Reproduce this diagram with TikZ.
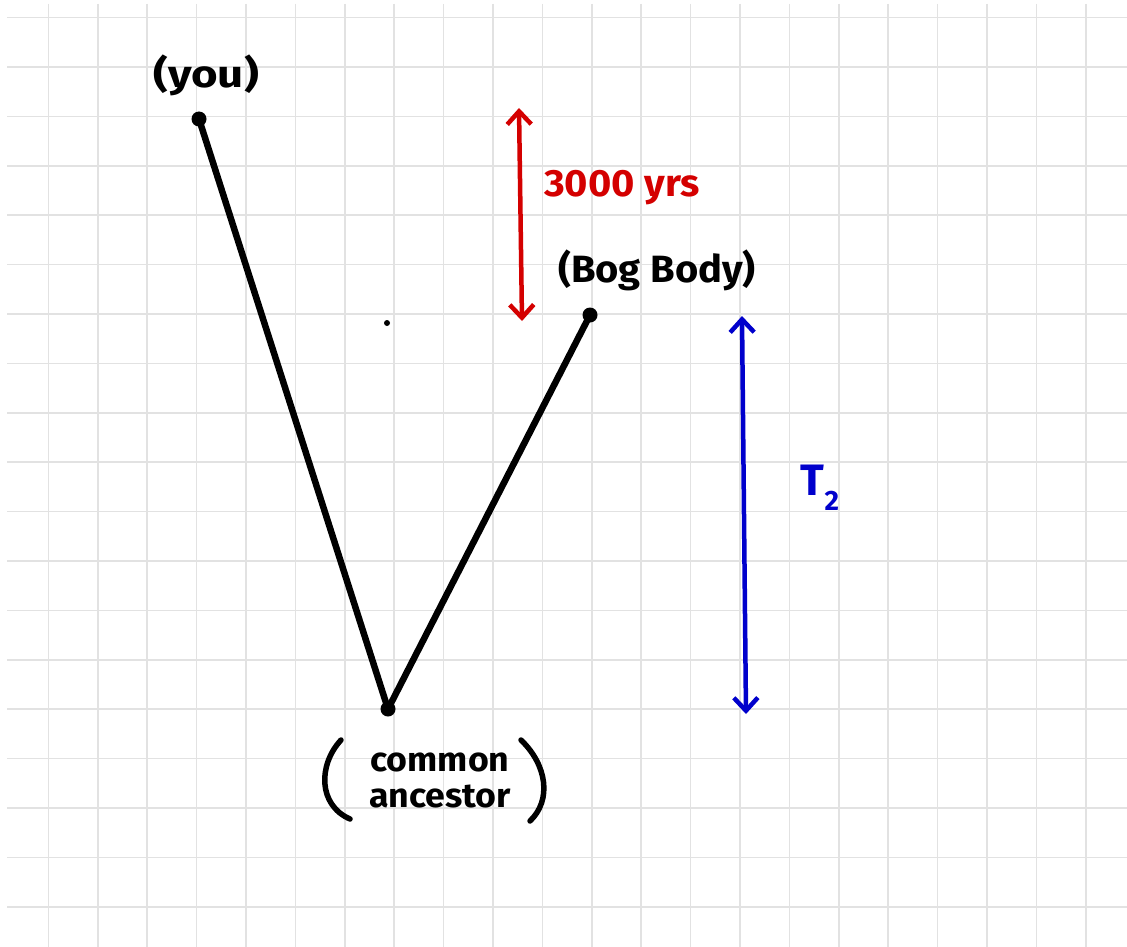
\documentclass[tikz,border=0pt]{standalone}
\usepackage{fontspec}
\setmainfont{Fira Sans}
\usetikzlibrary{arrows.meta}
\definecolor{gridc}{HTML}{E2E2E2}
\definecolor{penred}{HTML}{D40000}
\definecolor{penblue}{HTML}{0000CC}
\tikzset{
  gridline/.style={draw=gridc, line width=1.5pt},
  branch/.style={draw=black, line width=6.5pt, line cap=round},
  dotmark/.style={circle, fill=black, inner sep=0pt, minimum size=15pt},
  hand/.style={font=\fontsize{38}{42}\selectfont\bfseries, inner sep=0pt},
  span/.style={line width=4.5pt, line cap=round, {Straight Barb[length=13pt,width=24pt,line width=4.5pt]}-{Straight Barb[length=13pt,width=24pt,line width=4.5pt]}},
  paren/.style={draw=black, line width=5.5pt, line cap=round}
}
\begin{document}
\begin{tikzpicture}[x=1pt,y=-1pt]
\useasboundingbox (0,0) rectangle (1127,947);
\fill[white] (0,0) rectangle (1127,947);
% grid
\foreach \k in {0,...,21} \draw[gridline] ({48.4+49.4*\k},4) -- ({48.4+49.4*\k},947);
\foreach \k in {0,...,18} \draw[gridline] (7,{17.6+49.4*\k}) -- (1127,{17.6+49.4*\k});
% points
\node[dotmark] (you) at (199,119) {};
\node[dotmark] (anc) at (388,709) {};
\node[dotmark] (bog) at (590,315) {};
\node[circle, fill=black, inner sep=0pt, minimum size=6pt] (speck) at (387,323) {};
% branches
\draw[branch] (you.center) -- (anc.center);
\draw[branch] (bog.center) -- (anc.center);
% labels
\node[hand, xscale=1.2] (youlbl) at (206,75) {(you)};
\node[hand, xscale=1.05] (boglbl) at (657,270) {(Bog Body)};
\node[hand, text=penred, xscale=1.05] (yrs) at (622,188) {3000 yrs};
\node[hand, text=penblue, font=\fontsize{44}{48}\selectfont\bfseries] (t2) at (820,488) {T\raisebox{-0.35em}{\fontsize{28}{30}\selectfont\bfseries 2}};
\node[hand, align=center, font=\fontsize{34}{38}\selectfont\bfseries, xscale=1.05] (anclbl) at (440,780) {common\\[-2pt]ancestor};
% parentheses around common ancestor
\draw[paren] (341,740) .. controls (318,765) and (318,805) .. (350,819);
\draw[paren] (521,740) .. controls (547,765) and (552,800) .. (530,821);
% time spans
\coordinate (rtop) at (519,108);
\coordinate (rbot) at (522,321);
\draw[span, draw=penred] (rtop) -- (rbot);
\coordinate (btop) at (742,316);
\coordinate (bbot) at (746,714);
\draw[span, draw=penblue] (btop) -- (bbot);
\end{tikzpicture}
\end{document}
